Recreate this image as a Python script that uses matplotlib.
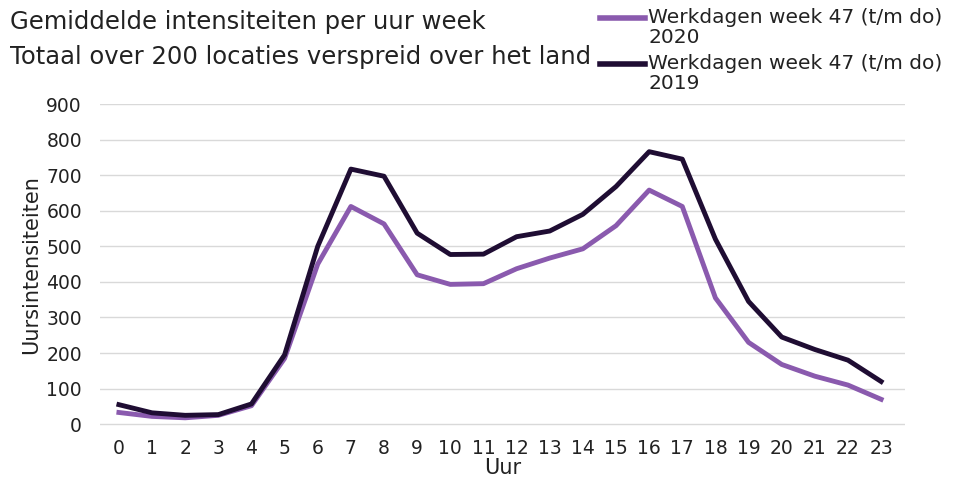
import matplotlib.pyplot as plt
from matplotlib.lines import Line2D

uren = list(range(24))
week47_2020 = [33, 22, 18, 25, 52, 185, 450, 612, 563, 420, 393, 395, 437, 467,
               493, 558, 658, 612, 355, 230, 168, 135, 110, 70]
week47_2019 = [55, 32, 25, 27, 57, 195, 500, 717, 697, 537, 477, 478, 527, 543,
               590, 668, 766, 745, 520, 345, 245, 210, 180, 120]
labels = ['Werkdagen week 47 (t/m do)\n2020', 'Werkdagen week 47 (t/m do)\n2019']
kleur_2020 = '#8a5aae'
kleur_2019 = '#1f0d33'

fig = plt.figure(figsize=(9.55, 4.83), dpi=100)
ax = fig.add_axes([100/955, 57/483, 805/955, 322/483])

ax.plot(uren, week47_2020, color=kleur_2020, lw=3.5, solid_joinstyle='round')
ax.plot(uren, week47_2019, color=kleur_2019, lw=3.5, solid_joinstyle='round')

ax.set_ylim(-5, 900)
ax.set_xlim(-0.57, 23.72)
ax.set_yticks(range(0, 901, 100))
ax.set_xticks(uren)
ax.grid(axis='y', color='#d9d9d9', lw=1)
ax.set_axisbelow(True)
for s in ax.spines.values():
    s.set_visible(False)
ax.tick_params(length=0, labelsize=13.5, colors='#222222')
ax.tick_params(axis='y', pad=13)
ax.tick_params(axis='x', pad=9)
ax.set_xlabel('Uur', fontsize=15, labelpad=0, color='#222222')
ax.set_ylabel('Uursintensiteiten', fontsize=15, labelpad=4, color='#222222')

fig.text(10/955, 1-22/483, 'Gemiddelde intensiteiten per uur week', fontsize=17.5,
         va='center', color='#222222')
fig.text(10/955, 1-57/483, 'Totaal over 200 locaties verspreid over het land', fontsize=17.5,
         va='center', color='#222222')

for i, (lab, kl) in enumerate(zip(labels, [kleur_2020, kleur_2019])):
    y0 = 1 - (18 + i*46)/483
    fig.add_artist(Line2D([600/955, 645/955], [y0, y0], color=kl, lw=4,
                          transform=fig.transFigure))
    fig.text(648/955, y0 + 10/483, lab, fontsize=14.5, va='top', color='#222222',
             linespacing=1.05)

fig.savefig('out.png', dpi=100)
